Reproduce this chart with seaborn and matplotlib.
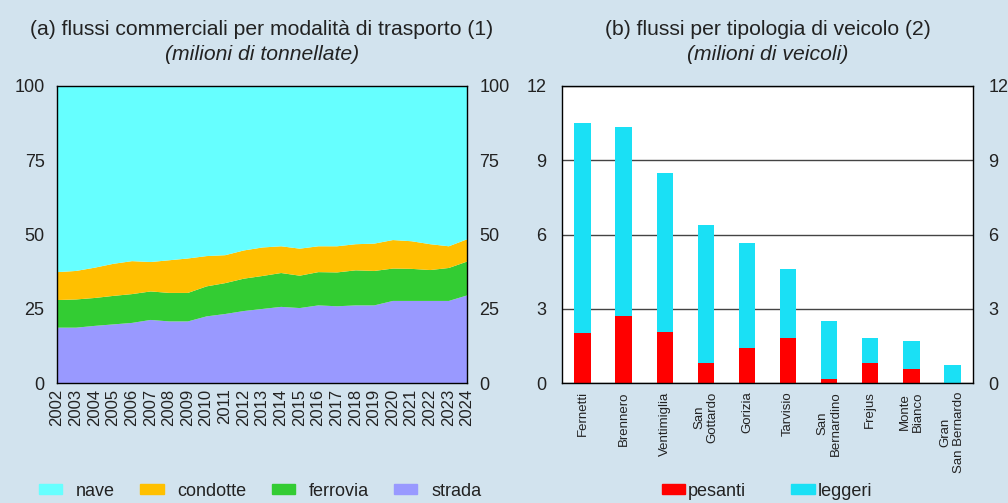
import numpy as np
import matplotlib
matplotlib.use('Agg')
import matplotlib.pyplot as plt
import seaborn as sns

# Dati pannello (a): milioni di tonnellate per modalità
anni = list(range(2002, 2025))
strada = [18.8, 18.8, 19.4, 19.9, 20.4, 21.4, 20.9, 20.9, 22.6, 23.4, 24.4, 25.1,
          25.8, 25.4, 26.3, 26.0, 26.3, 26.3, 27.8, 27.8, 27.8, 27.8, 29.7]
ferrovia = [9.3, 9.5, 9.4, 9.6, 9.7, 9.6, 9.6, 9.6, 10.1, 10.4, 10.9, 11.1,
            11.4, 10.9, 11.2, 11.4, 11.8, 11.6, 10.9, 10.8, 10.4, 11.1, 11.4]
condotte = [9.4, 9.6, 10.2, 10.8, 11.1, 9.9, 11.0, 11.6, 10.2, 9.4, 9.5, 9.6,
            9.0, 9.1, 8.7, 8.8, 8.8, 9.2, 9.6, 9.3, 8.7, 7.3, 7.5]
nave = [62.5, 62.1, 61.0, 59.7, 58.8, 59.1, 58.5, 57.9, 57.1, 56.8, 55.2, 54.2,
        53.8, 54.6, 53.8, 53.8, 53.1, 52.9, 51.7, 52.1, 53.1, 53.8, 51.4]

# Dati pannello (b): milioni di veicoli per valico
valichi = ['Fernetti', 'Brennero', 'Ventimiglia', 'San\nGottardo', 'Gorizia', 'Tarvisio',
           'San\nBernardino', 'Frejus', 'Monte\nBianco', 'Gran\nSan Bernardo']
pesanti = [2.04, 2.72, 2.07, 0.81, 1.40, 1.83, 0.16, 0.82, 0.56, 0.0]
leggeri = [8.48, 7.63, 6.42, 5.56, 4.27, 2.78, 2.34, 0.99, 1.15, 0.73]

bg = '#d2e3ee'
col_nave, col_cond, col_ferr, col_strada = '#66ffff', '#ffc000', '#33cc33', '#9999ff'
col_pes, col_leg = '#ff0000', '#1ae0f5'
txt = '#222222'

sns.set_theme(style='white')
plt.rcParams['font.family'] = ['Liberation Sans', 'DejaVu Sans']
plt.rcParams['text.color'] = txt

fig = plt.figure(figsize=(10.08, 5.03), dpi=100, facecolor=bg)
ax1 = fig.add_axes([57 / 1008, 120 / 503, 410 / 1008, 297 / 503])
ax2 = fig.add_axes([562 / 1008, 120 / 503, 411 / 1008, 297 / 503])

# (a) area stack
ax1.stackplot(anni, strada, ferrovia, condotte, nave,
              colors=[col_strada, col_ferr, col_cond, col_nave], linewidth=0)
ax1.set_xlim(2002, 2024)
ax1.set_ylim(0, 100)
ax1.set_xticks(anni)
ax1.set_xticklabels([str(a) for a in anni], rotation=90, fontsize=12, color=txt)
ax1.set_yticks([0, 25, 50, 75, 100])
ax1.tick_params(axis='y', labelsize=13, labelcolor=txt, length=0, pad=9,
                labelright=True, right=False)
ax1.tick_params(axis='x', length=0, pad=4)
ax1.text(0.5, 1.19, '(a) flussi commerciali per modalità di trasporto (1)',
         transform=ax1.transAxes, ha='center', va='center', fontsize=15.2)
ax1.text(0.5, 1.105, '(milioni di tonnellate)', transform=ax1.transAxes,
         ha='center', va='center', fontsize=15.2, style='italic')

# (b) barre sovrapposte
totali = [p + l for p, l in zip(pesanti, leggeri)]
ax2.set_facecolor('white')
sns.barplot(x=valichi, y=totali, color=col_leg, width=0.4, saturation=1,
            linewidth=0, ax=ax2)
sns.barplot(x=valichi, y=pesanti, color=col_pes, width=0.4, saturation=1,
            linewidth=0, ax=ax2)
ax2.set_xlim(-0.5, len(valichi) - 0.5)
ax2.set_ylim(0, 12)
ax2.set_yticks([0, 3, 6, 9, 12])
ax2.grid(axis='y', color='#444444', lw=1)
ax2.set_axisbelow(True)
ax2.set_xticks(range(len(valichi)))
ax2.set_xticklabels(valichi, rotation=90, fontsize=9.5, color=txt,
                    va='top', ha='center', multialignment='center')
ax2.tick_params(axis='y', labelsize=13, labelcolor=txt, length=0, pad=11,
                labelright=True, right=False)
ax2.tick_params(axis='x', length=0, pad=6)
ax2.set_ylabel('')
ax2.text(0.5, 1.19, '(b) flussi per tipologia di veicolo (2)',
         transform=ax2.transAxes, ha='center', va='center', fontsize=15.2)
ax2.text(0.5, 1.105, '(milioni di veicoli)', transform=ax2.transAxes,
         ha='center', va='center', fontsize=15.2, style='italic')

for ax in (ax1, ax2):
    for s in ax.spines.values():
        s.set_color('black')
        s.set_linewidth(1)

# legende
h1 = [plt.Rectangle((0, 0), 1, 1, color=c) for c in [col_nave, col_cond, col_ferr, col_strada]]
fig.legend(h1, ['nave', 'condotte', 'ferrovia', 'strada'], ncol=4, frameon=False,
           loc='center', bbox_to_anchor=(260 / 1008, 12 / 503), fontsize=13,
           handlelength=1.3, handleheight=0.5, handletextpad=0.75, columnspacing=1.4)
h2 = [plt.Rectangle((0, 0), 1, 1, color=c) for c in [col_pes, col_leg]]
fig.legend(h2, ['pesanti', 'leggeri'], ncol=2, frameon=False,
           loc='center', bbox_to_anchor=(767 / 1008, 12 / 503), fontsize=13,
           handlelength=1.3, handleheight=0.5, handletextpad=0.15, columnspacing=2.5)

fig.savefig('out.png', dpi=100, facecolor=bg)
